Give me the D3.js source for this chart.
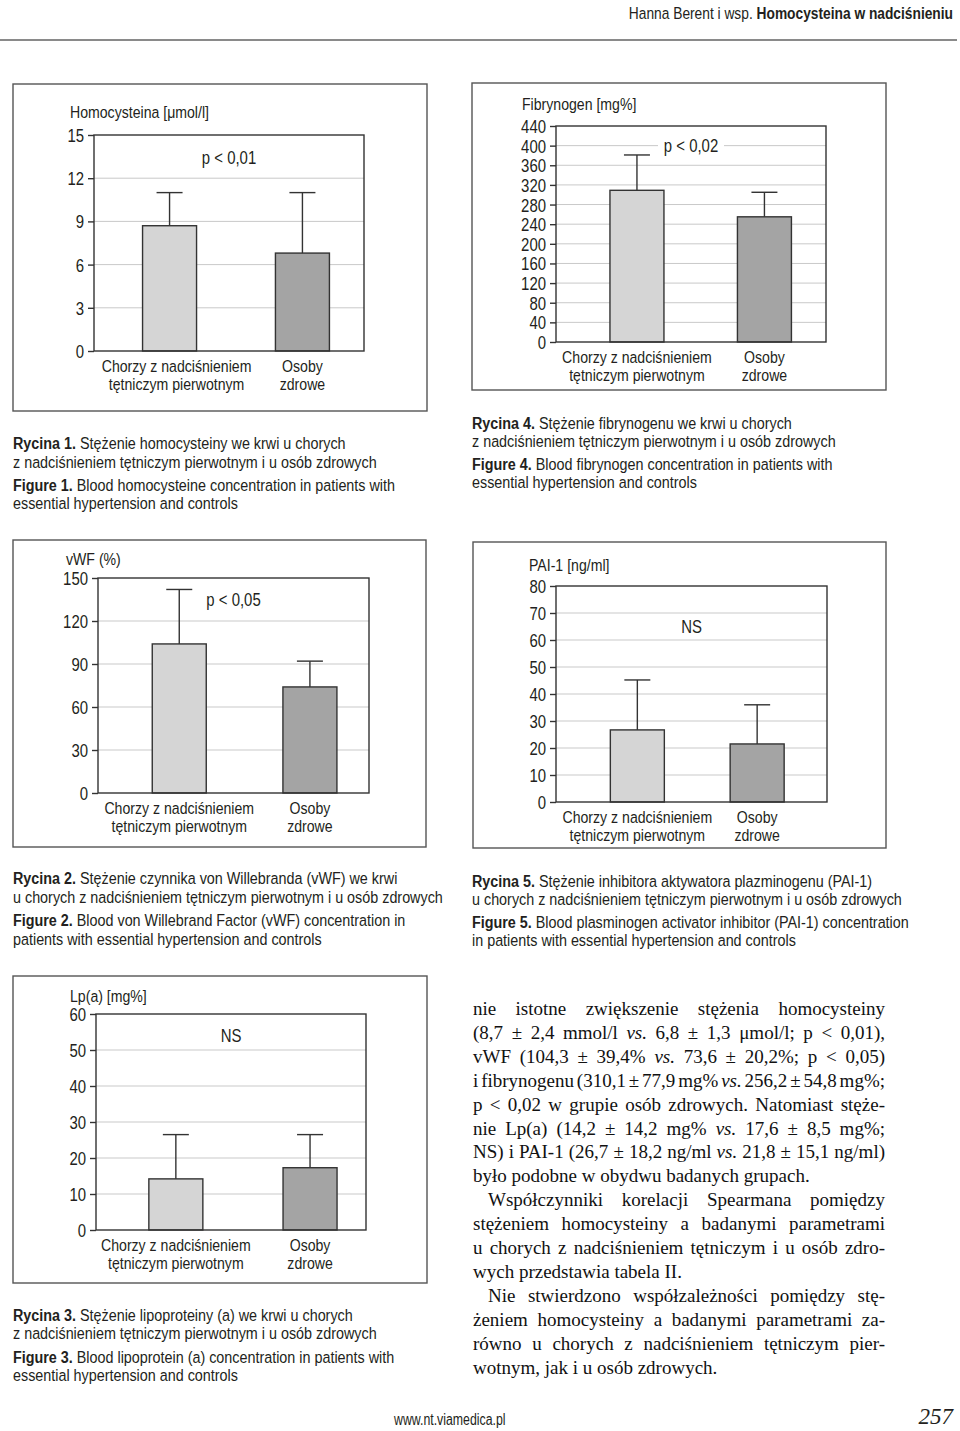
<!DOCTYPE html>
<html><head><meta charset="utf-8">
<script src="https://cdn.jsdelivr.net/npm/d3@7"></script>
<style>
html,body{margin:0;padding:0;background:#fff;}
svg{display:block;}
</style></head><body>
<svg id="page" width="960" height="1431"></svg>
<script>
// ---------------- DATA ----------------
const groupLabels = [["Chorzy z nadciśnieniem", "tętniczym pierwotnym"], ["Osoby", "zdrowe"]];

const homocysteineMean = [8.7, 6.8];
const homocysteineSD = [2.3, 4.2];
const homocysteineTicks = [0, 3, 6, 9, 12, 15];

const fibrinogenMean = [309, 255];
const fibrinogenSD = [72, 50];
const fibrinogenTicks = [0, 40, 80, 120, 160, 200, 240, 280, 320, 360, 400, 440];

const vwfMean = [104, 74];
const vwfSD = [38, 18];
const vwfTicks = [0, 30, 60, 90, 120, 150];

const lpaMean = [14.2, 17.3];
const lpaSD = [12.3, 9.2];
const lpaTicks = [0, 10, 20, 30, 40, 50, 60];

const pai1Mean = [26.7, 21.5];
const pai1SD = [18.5, 14.5];
const pai1Ticks = [0, 10, 20, 30, 40, 50, 60, 70, 80];

const axisTitles = ["Homocysteina [μmol/l]", "Fibrynogen [mg%]", "vWF (%)", "PAI-1 [ng/ml]", "Lp(a) [mg%]"];
const pLabels = ["p < 0,01", "p < 0,02", "p < 0,05", "NS", "NS"];
const pLabelLevel = [13.4, 400, 135, 65, 54];

// ---------------- STYLE ----------------
const SANS = "'Liberation Sans Narrow','Arial Narrow','Liberation Sans',sans-serif";
const SERIF = "'Liberation Serif','DejaVu Serif',serif";
const INK = "#231f20";
const fills = ["#d5d5d5", "#a4a4a4"];
const K = 0.83; // horizontal condensing of the sans face

const svg = d3.select("#page");

// condensed text helper: text drawn inside a horizontally scaled group
function ntext(parent, x, y, opt = {}) {
  const k = opt.k || K;
  const g = parent.append("g").attr("transform", `translate(${x},${y}) scale(${k},1)`);
  const t = g.append("text").attr("x", 0).attr("y", 0)
    .attr("text-anchor", opt.anchor || "start")
    .attr("font-family", SANS).attr("font-size", opt.size || 17)
    .attr("fill", INK).attr("xml:space", "preserve");
  if (opt.weight) t.attr("font-weight", opt.weight);
  if (opt.text != null) t.text(opt.text);
  return t;
}

const charts = [
  {frame:[13,84,427,411], plot:[94,135,364,351], title:axisTitles[0], tdx:-24, tdy:-23, lshift:[7,0],
   mean:homocysteineMean, sd:homocysteineSD, ticks:homocysteineTicks, p:pLabels[0], pv:pLabelLevel[0], pad:0.516, align:0.551},
  {frame:[472,83,886,390], plot:[556,126,826,342], title:axisTitles[1], tdx:-34, tdy:-22, lshift:[0,0],
   mean:fibrinogenMean, sd:fibrinogenSD, ticks:fibrinogenTicks, p:pLabels[1], pv:pLabelLevel[1], pad:0.559, align:0.568},
  {frame:[13,540,426,847], plot:[98,578,369,793], title:axisTitles[2], tdx:-32, tdy:-19, lshift:[0,0],
   mean:vwfMean, sd:vwfSD, ticks:vwfTicks, p:pLabels[2], pv:pLabelLevel[2], pad:0.537, align:0.579},
  {frame:[473,542,886,848], plot:[556,586,827,802], title:axisTitles[3], tdx:-27, tdy:-21, lshift:[0,0],
   mean:pai1Mean, sd:pai1SD, ticks:pai1Ticks, p:pLabels[3], pv:pLabelLevel[3], pad:0.631, align:0.538},
  {frame:[13,976,427,1283], plot:[96,1014,366,1230], title:axisTitles[4], tdx:-26, tdy:-18, lshift:[0,0],
   mean:lpaMean, sd:lpaSD, ticks:lpaTicks, p:pLabels[4], pv:pLabelLevel[4], pad:0.506, align:0.588}
];

function drawChart(c) {
  const g = svg.append("g");
  const [fx0, fy0, fx1, fy1] = c.frame;
  const [px0, py0, px1, py1] = c.plot;
  g.append("rect").attr("x", fx0).attr("y", fy0).attr("width", fx1 - fx0).attr("height", fy1 - fy0)
    .attr("fill", "none").attr("stroke", "#555").attr("stroke-width", 1.4);

  const maxV = d3.max(c.ticks);
  const y = d3.scaleLinear().domain([0, maxV]).range([py1, py0]);
  const x = d3.scalePoint().domain(d3.range(c.mean.length)).range([px0, px1]).padding(c.pad).align(c.align);

  // gridlines
  g.selectAll(".grid").data(c.ticks.filter(t => t > 0 && t < maxV)).join("line")
    .attr("x1", px0).attr("x2", px1).attr("y1", d => y(d)).attr("y2", d => y(d))
    .attr("stroke", "#c9c9c9").attr("stroke-width", 1);

  // p label with white background
  const pt = ntext(g, (px0 + px1) / 2, y(c.pv) + 6, {anchor:"middle", size:18, text:c.p});
  const bb = pt.node().getBBox();
  d3.select(pt.node().parentNode).insert("rect", "text").attr("x", bb.x - 7).attr("y", bb.y)
    .attr("width", bb.width + 14).attr("height", bb.height).attr("fill", "#fff");

  const bw = 54, cap = 13;
  const idx = d3.range(c.mean.length);
  // error bars
  g.selectAll(".err").data(idx).join("line")
    .attr("x1", i => x(i)).attr("x2", i => x(i))
    .attr("y1", i => y(c.mean[i])).attr("y2", i => y(c.mean[i] + c.sd[i]))
    .attr("stroke", "#333").attr("stroke-width", 1.4);
  g.selectAll(".cap").data(idx).join("line")
    .attr("x1", i => x(i) - cap).attr("x2", i => x(i) + cap)
    .attr("y1", i => y(c.mean[i] + c.sd[i])).attr("y2", i => y(c.mean[i] + c.sd[i]))
    .attr("stroke", "#333").attr("stroke-width", 1.4);
  // bars
  g.selectAll(".bar").data(idx).join("rect")
    .attr("x", i => x(i) - bw / 2).attr("width", bw)
    .attr("y", i => y(c.mean[i])).attr("height", i => y(0) - y(c.mean[i]))
    .attr("fill", i => fills[i]).attr("stroke", "#333").attr("stroke-width", 1.4);

  // plot border
  g.append("rect").attr("x", px0).attr("y", py0).attr("width", px1 - px0).attr("height", py1 - py0)
    .attr("fill", "none").attr("stroke", "#333").attr("stroke-width", 1.4);

  // y axis
  const ax = g.append("g").attr("transform", `translate(${px0},0)`)
    .call(d3.axisLeft(y).tickValues(c.ticks).tickSize(6).tickPadding(4).tickFormat(d3.format("d")));
  ax.select(".domain").remove();
  ax.selectAll(".tick line").attr("stroke", "#333").attr("stroke-width", 1.4);
  ax.selectAll(".tick text").attr("font-family", SANS).attr("font-size", 18).attr("fill", INK)
    .attr("dy", "0.36em").attr("x", -10 / K).attr("transform", `scale(${K},1)`);

  // axis title
  ntext(g, px0 + c.tdx, py0 + c.tdy + 6, {size:17, text:c.title});

  // category labels
  idx.forEach(i => {
    groupLabels[i].forEach((line, k) => {
      ntext(g, x(i) + c.lshift[i], py1 + 21 + k * 18, {anchor:"middle", size:17, text:line});
    });
  });
}
charts.forEach(drawChart);

// ---------------- CAPTIONS ----------------
const captions = [
  {x:13, ys:[443,462,485,503], lines:[["Rycina 1.", " Stężenie homocysteiny we krwi u chorych"], ["", "z nadciśnieniem tętniczym pierwotnym i u osób zdrowych"], ["Figure 1.", " Blood homocysteine concentration in patients with"], ["", "essential hypertension and controls"]]},
  {x:472, ys:[423,441,464,482], lines:[["Rycina 4.", " Stężenie fibrynogenu we krwi u chorych"], ["", "z nadciśnieniem tętniczym pierwotnym i u osób zdrowych"], ["Figure 4.", " Blood fibrynogen concentration in patients with"], ["", "essential hypertension and controls"]]},
  {x:13, ys:[878,897,920,939], lines:[["Rycina 2.", " Stężenie czynnika von Willebranda (vWF) we krwi"], ["", "u chorych z nadciśnieniem tętniczym pierwotnym i u osób zdrowych"], ["Figure 2.", " Blood von Willebrand Factor (vWF) concentration in"], ["", "patients with essential hypertension and controls"]]},
  {x:472, ys:[881,899,922,940], lines:[["Rycina 5.", " Stężenie inhibitora aktywatora plazminogenu (PAI-1)"], ["", "u chorych z nadciśnieniem tętniczym pierwotnym i u osób zdrowych"], ["Figure 5.", " Blood plasminogen activator inhibitor (PAI-1) concentration"], ["", "in patients with essential hypertension and controls"]]},
  {x:13, ys:[1315,1333,1357,1375], lines:[["Rycina 3.", " Stężenie lipoproteiny (a) we krwi u chorych"], ["", "z nadciśnieniem tętniczym pierwotnym i u osób zdrowych"], ["Figure 3.", " Blood lipoprotein (a) concentration in patients with"], ["", "essential hypertension and controls"]]}
];
captions.forEach(cap => {
  cap.lines.forEach((ln, k) => {
    const t = ntext(svg, cap.x, cap.ys[k] + 6, {size:17, k:0.845});
    if (ln[0]) t.append("tspan").attr("font-weight", "bold").text(ln[0]);
    t.append("tspan").text(ln[1]);
  });
});

// ---------------- HEADER / FOOTER ----------------
const hdr = ntext(svg, 953, 19, {anchor:"end", size:17, k:0.81});
hdr.append("tspan").text("Hanna Berent i wsp. ");
hdr.append("tspan").attr("font-weight", "bold").text("Homocysteina w nadciśnieniu");
svg.append("line").attr("x1", 0).attr("x2", 957).attr("y1", 40).attr("y2", 40)
  .attr("stroke", "#8a8a8a").attr("stroke-width", 2);

ntext(svg, 394, 1425, {size:16, k:0.77, text:"www.nt.viamedica.pl"});
svg.append("text").attr("x", 953).attr("y", 1424).attr("text-anchor", "end").attr("font-family", SERIF)
  .attr("font-style", "italic").attr("font-size", 23).attr("fill", INK).text("257");

// ---------------- BODY TEXT ----------------
const bodyLines = [
  {t:"nie istotne zwiększenie stężenia homocysteiny", j:1},
  {t:"(8,7 ± 2,4 mmol/l _vs._ 6,8 ± 1,3 μmol/l; p < 0,01),", j:1},
  {t:"vWF (104,3 ± 39,4% _vs._ 73,6 ± 20,2%; p < 0,05)", j:1},
  {t:"i fibrynogenu (310,1 ± 77,9 mg% _vs._ 256,2 ± 54,8 mg%;", j:1},
  {t:"p < 0,02 w grupie osób zdrowych. Natomiast stęże-", j:1},
  {t:"nie Lp(a) (14,2 ± 14,2 mg% _vs._ 17,6 ± 8,5 mg%;", j:1},
  {t:"NS) i PAI-1 (26,7 ± 18,2 ng/ml _vs._ 21,8 ± 15,1 ng/ml)", j:1},
  {t:"było podobne w obydwu badanych grupach.", j:0},
  {t:"Współczynniki korelacji Spearmana pomiędzy", j:1, ind:1},
  {t:"stężeniem homocysteiny a badanymi parametrami", j:1},
  {t:"u chorych z nadciśnieniem tętniczym i u osób zdro-", j:1},
  {t:"wych przedstawia tabela II.", j:0},
  {t:"Nie stwierdzono współzależności pomiędzy stę-", j:1, ind:1},
  {t:"żeniem homocysteiny a badanymi parametrami za-", j:1},
  {t:"równo u chorych z nadciśnieniem tętniczym pier-", j:1},
  {t:"wotnym, jak i u osób zdrowych.", j:0}
];
const BX = 473, BW = 412, BY0 = 1009, LH = 23.9, IND = 15, BFS = 19;
bodyLines.forEach((ln, k) => {
  const words = ln.t.split(" ");
  const y = BY0 + k * LH + 6;
  const x0 = BX + (ln.ind ? IND : 0);
  const avail = BX + BW - x0;
  const g = svg.append("g");
  const nodes = words.map(w => {
    const t = g.append("text").attr("y", y).attr("font-family", SERIF).attr("font-size", BFS).attr("fill", "#111");
    const parts = w.split("_");
    parts.forEach((p, i) => { if (p) t.append("tspan").attr("font-style", i % 2 ? "italic" : "normal").text(p); });
    return t;
  });
  const widths = nodes.map(n => n.node().getComputedTextLength());
  const sum = d3.sum(widths);
  let gap = BFS * 0.25;
  let scale = 1;
  if (ln.j && words.length > 1) {
    gap = (avail - sum) / (words.length - 1);
    if (gap < 2.5) { gap = 2.5; scale = avail / (sum + gap * (words.length - 1)); }
  }
  let cx = 0;
  nodes.forEach((n, i) => { n.attr("x", cx); cx += widths[i] + gap; });
  g.attr("transform", `translate(${x0},0) scale(${scale},1)`);
});
</script>
</body></html>
